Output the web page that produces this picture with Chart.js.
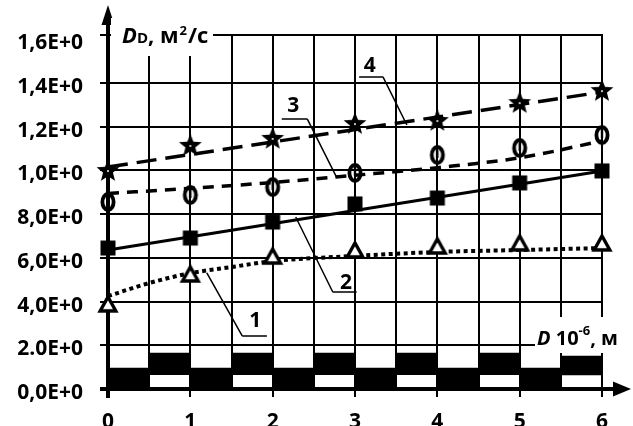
<!DOCTYPE html>
<html>
<head>
<meta charset="utf-8">
<script src="https://cdn.jsdelivr.net/npm/chart.js@4.4.1/dist/chart.umd.min.js"></script>
<style>
  html, body { margin: 0; padding: 0; background: #fff; }
</style>
</head>
<body>
<canvas id="chart" width="633" height="426"></canvas>
<script>
// x positions of the measurements and the axis labels
const xValues = [0, 1, 2, 3, 4, 5, 6];
const xLabels = ["0", "1", "2", "3", "4", "5", "6"];
const yTicks = [0, 0.2, 0.4, 0.6, 0.8, 1.0, 1.2, 1.4, 1.6];
const yLabels = ["0,0E+0", "2.0E+0", "4,0E+0", "6,0E+0", "8,0E+0", "1,0E+0", "1,2E+0", "1,4E+0", "1,6E+0"];

// measured points (1 - triangles, 2 - squares, 3 - ovals, 4 - stars)
const series1 = [0.394, 0.531, 0.613, 0.641, 0.659, 0.673, 0.673];
const series2 = [0.645, 0.691, 0.764, 0.847, 0.874, 0.943, 0.998];
const series3 = [0.856, 0.888, 0.924, 0.989, 1.071, 1.103, 1.162];
const series4 = [1.002, 1.117, 1.149, 1.217, 1.231, 1.313, 1.368];

// trend lines
const trend1X = [0, 0.5, 1, 1.5, 2, 3, 4, 5, 6];
const trend1 = [0.425, 0.485, 0.53, 0.558, 0.585, 0.609, 0.627, 0.636, 0.645];
const trend2X = [0, 6];
const trend2 = [0.636, 0.998];
const trend3X = [0, 1, 2, 3, 4, 5, 6];
const trend3 = [0.895, 0.918, 0.945, 0.978, 1.013, 1.058, 1.135];
const trend4X = [0, 6];
const trend4 = [1.016, 1.359];

// checkered strip along the x axis
const barX = [0.25, 0.75, 1.25, 1.75, 2.25, 2.75, 3.25, 3.75, 4.25, 4.75, 5.25, 5.75];
const barLow = [0, 0.066, 0, 0.066, 0, 0.066, 0, 0.066, 0, 0.066, 0, 0.064];
const barHigh = [0.096, 0.164, 0.096, 0.164, 0.096, 0.164, 0.096, 0.164, 0.096, 0.164, 0.096, 0.151];

const FONT = "'Open Sans', 'Liberation Sans', sans-serif";

// numbered callouts: label, underline and leader (in data units)
const callouts = [
  { text: "4", tx: 3.18, ty: 1.487, ux: [3.05, 3.34], uy: 1.428, from: 3.34, to: [3.63, 1.208] },
  { text: "3", tx: 2.25, ty: 1.304, ux: [2.11, 2.42], uy: 1.236, from: 2.42, to: [2.78, 0.966] },
  { text: "2", tx: 2.89, ty: 0.49, ux: [2.73, 3.02], uy: 0.444, from: 2.73, to: [2.28, 0.787] },
  { text: "1", tx: 1.79, ty: 0.316, ux: [1.63, 1.93], uy: 0.243, from: 1.63, to: [1.2, 0.531] },
];

function makeMarker(kind) {
  const c = document.createElement("canvas");
  c.width = 26;
  c.height = 26;
  const g = c.getContext("2d");
  const m = 13;
  g.fillStyle = "#000";
  g.strokeStyle = "#000";
  if (kind === "star") {
    g.beginPath();
    for (let i = 0; i < 10; i++) {
      const r = i % 2 ? 5.2 : 12;
      const a = -Math.PI / 2 + (i * Math.PI) / 5;
      g.lineTo(m + r * Math.cos(a), m + 1 + r * Math.sin(a));
    }
    g.closePath();
    g.fill();
    g.fillStyle = "#fff";
    g.beginPath();
    g.arc(m, m + 1, 1, 0, Math.PI * 2);
    g.fill();
  } else if (kind === "oval") {
    g.lineWidth = 3.8;
    g.beginPath();
    g.ellipse(m, m, 5.6, 8, 0, 0, Math.PI * 2);
    g.stroke();
    g.lineWidth = 2.4;
    g.beginPath();
    g.moveTo(m, m - 5);
    g.lineTo(m, m + 3);
    g.stroke();
  } else if (kind === "square") {
    g.fillRect(m - 7.5, m - 7.5, 15, 15);
  } else if (kind === "triangle") {
    g.lineWidth = 3.4;
    g.lineJoin = "miter";
    g.beginPath();
    g.moveTo(m, m - 6);
    g.lineTo(m + 7.8, m + 8);
    g.lineTo(m - 7.8, m + 8);
    g.closePath();
    g.fillStyle = "#fff";
    g.fill();
    g.stroke();
  }
  return c;
}

function pts(xs, ys) {
  return xs.map((x, i) => ({ x: x, y: ys[i] }));
}

function markerSet(ys, kind) {
  return {
    type: "line",
    data: pts(xValues, ys),
    showLine: false,
    pointStyle: makeMarker(kind),
    pointRadius: 10,
    clip: false,
    order: 0,
  };
}

function trendSet(xs, ys, width, dash, smooth) {
  return {
    type: "line",
    data: pts(xs, ys),
    borderColor: "#000",
    borderWidth: width,
    borderDash: dash,
    pointRadius: 0,
    cubicInterpolationMode: smooth ? "monotone" : "default",
    clip: false,
    order: 1,
  };
}

function drawRuns(ctx, x, y, runs) {
  runs.forEach((r) => {
    ctx.font = r.font;
    ctx.fillText(r.t, x, y + (r.dy || 0));
    x += ctx.measureText(r.t).width + (r.gap || 0);
  });
  return x;
}

const decorations = {
  id: "decorations",
  beforeDatasetsDraw(chart) {
    const ctx = chart.ctx;
    const a = chart.chartArea;
    ctx.save();
    ctx.strokeStyle = "#000";
    ctx.fillStyle = "#000";
    // top frame line and its tick
    ctx.lineWidth = 2;
    ctx.beginPath();
    ctx.moveTo(a.left - 8, a.top);
    ctx.lineTo(a.right + 1, a.top);
    ctx.stroke();
    // y axis with arrow
    ctx.lineWidth = 4;
    ctx.beginPath();
    ctx.moveTo(a.left, a.bottom + 9);
    ctx.lineTo(a.left, 20);
    ctx.stroke();
    ctx.beginPath();
    ctx.moveTo(a.left, 5);
    ctx.lineTo(a.left + 6.5, 25);
    ctx.lineTo(a.left - 6.5, 25);
    ctx.closePath();
    ctx.fill();
    // x axis with arrow
    ctx.beginPath();
    ctx.moveTo(a.left - 8, a.bottom);
    ctx.lineTo(618, a.bottom);
    ctx.stroke();
    ctx.beginPath();
    ctx.moveTo(631, a.bottom);
    ctx.lineTo(613, a.bottom - 7.5);
    ctx.lineTo(613, a.bottom + 7.5);
    ctx.closePath();
    ctx.fill();
    ctx.restore();
  },
  afterDraw(chart) {
    const ctx = chart.ctx;
    const sx = chart.scales.x;
    const sy = chart.scales.y;
    ctx.save();
    ctx.fillStyle = "#000";
    ctx.strokeStyle = "#000";

    // callouts
    ctx.lineWidth = 1.5;
    callouts.forEach((c) => {
      const uy = sy.getPixelForValue(c.uy);
      ctx.beginPath();
      ctx.moveTo(sx.getPixelForValue(c.ux[0]), uy);
      ctx.lineTo(sx.getPixelForValue(c.ux[1]), uy);
      ctx.moveTo(sx.getPixelForValue(c.from), uy);
      ctx.lineTo(sx.getPixelForValue(c.to[0]), sy.getPixelForValue(c.to[1]));
      ctx.stroke();
      ctx.font = "bold 21px " + FONT;
      ctx.textAlign = "center";
      ctx.textBaseline = "middle";
      ctx.fillText(c.text, sx.getPixelForValue(c.tx), sy.getPixelForValue(c.ty) + 1.5);
    });

    ctx.textAlign = "left";
    ctx.textBaseline = "alphabetic";

    // y axis title
    ctx.fillStyle = "#fff";
    ctx.fillRect(111, 18, 102, 38);
    ctx.fillStyle = "#000";
    drawRuns(ctx, 122, 43, [
      { t: "D", font: "italic bold 22px " + FONT },
      { t: "D", font: "bold 15px " + FONT },
      { t: ", м", font: "bold 22px " + FONT, gap: 1 },
      { t: "2", font: "bold 13px " + FONT, dy: -8, gap: 1 },
      { t: "/с", font: "bold 22px " + FONT },
    ]);

    // x axis title
    ctx.fillStyle = "#fff";
    ctx.fillRect(535, 317, 98, 36);
    ctx.fillStyle = "#000";
    drawRuns(ctx, 537, 345, [
      { t: "D", font: "italic bold 20px " + FONT },
      { t: " 10", font: "bold 20px " + FONT },
      { t: "-6", font: "bold 13px " + FONT, dy: -10 },
      { t: ", м", font: "bold 20px " + FONT },
    ]);
    ctx.restore();
  },
};

const ctx = document.getElementById("chart").getContext("2d");
const chart = new Chart(ctx, {
  type: "line",
  data: {
    datasets: [
      {
        type: "bar",
        data: barX.map((x, i) => ({ x: x, y: [barLow[i], barHigh[i]] })),
        backgroundColor: "#000",
        borderWidth: 0,
        categoryPercentage: 1,
        barPercentage: 1,
        order: 5,
      },
      trendSet(trend1X, trend1, 4, [4, 3.5], true),
      trendSet(trend2X, trend2, 3, [], false),
      trendSet(trend3X, trend3, 3.5, [11, 8], true),
      trendSet(trend4X, trend4, 3.5, [20, 9], false),
      markerSet(series1, "triangle"),
      markerSet(series2, "square"),
      markerSet(series3, "oval"),
      markerSet(series4, "star"),
    ],
  },
  options: {
    responsive: false,
    animation: false,
    devicePixelRatio: 1,
    layout: { padding: { top: 35, right: 31, left: 0, bottom: 0 } },
    plugins: {
      legend: { display: false },
      tooltip: { enabled: false },
    },
    scales: {
      x: {
        type: "linear",
        min: 0,
        max: 6,
        offset: false,
        afterFit: (s) => { s.height = 37; },
        border: { display: false },
        grid: {
          offset: false,
          color: "#000",
          lineWidth: 2,
          tickLength: 8,
          tickColor: (c) => (c.tick && Number.isInteger(c.tick.value) ? "#000" : "rgba(0,0,0,0)"),
        },
        ticks: {
          stepSize: 0.5,
          autoSkip: false,
          maxRotation: 0,
          padding: 12,
          color: "#000",
          font: { family: FONT, size: 21, weight: "bold" },
          callback: (v) => (Number.isInteger(v) ? xLabels[v] : ""),
        },
      },
      y: {
        type: "linear",
        min: 0,
        max: 1.62,
        afterFit: (s) => { s.width = 108; },
        afterBuildTicks: (s) => { s.ticks = yTicks.map((v) => ({ value: v })); },
        border: { display: false },
        grid: {
          color: (c) => (c.tick && (c.tick.value === 0 || c.tick.value === 1.6) ? "rgba(0,0,0,0)" : "#000"),
          lineWidth: 2,
          tickLength: 8,
        },
        ticks: {
          padding: 17,
          labelOffset: 4,
          color: "#000",
          font: { family: FONT, size: 21, weight: "bold" },
          callback: (v, i) => yLabels[i],
        },
      },
    },
  },
  plugins: [decorations],
});
</script>
</body>
</html>
